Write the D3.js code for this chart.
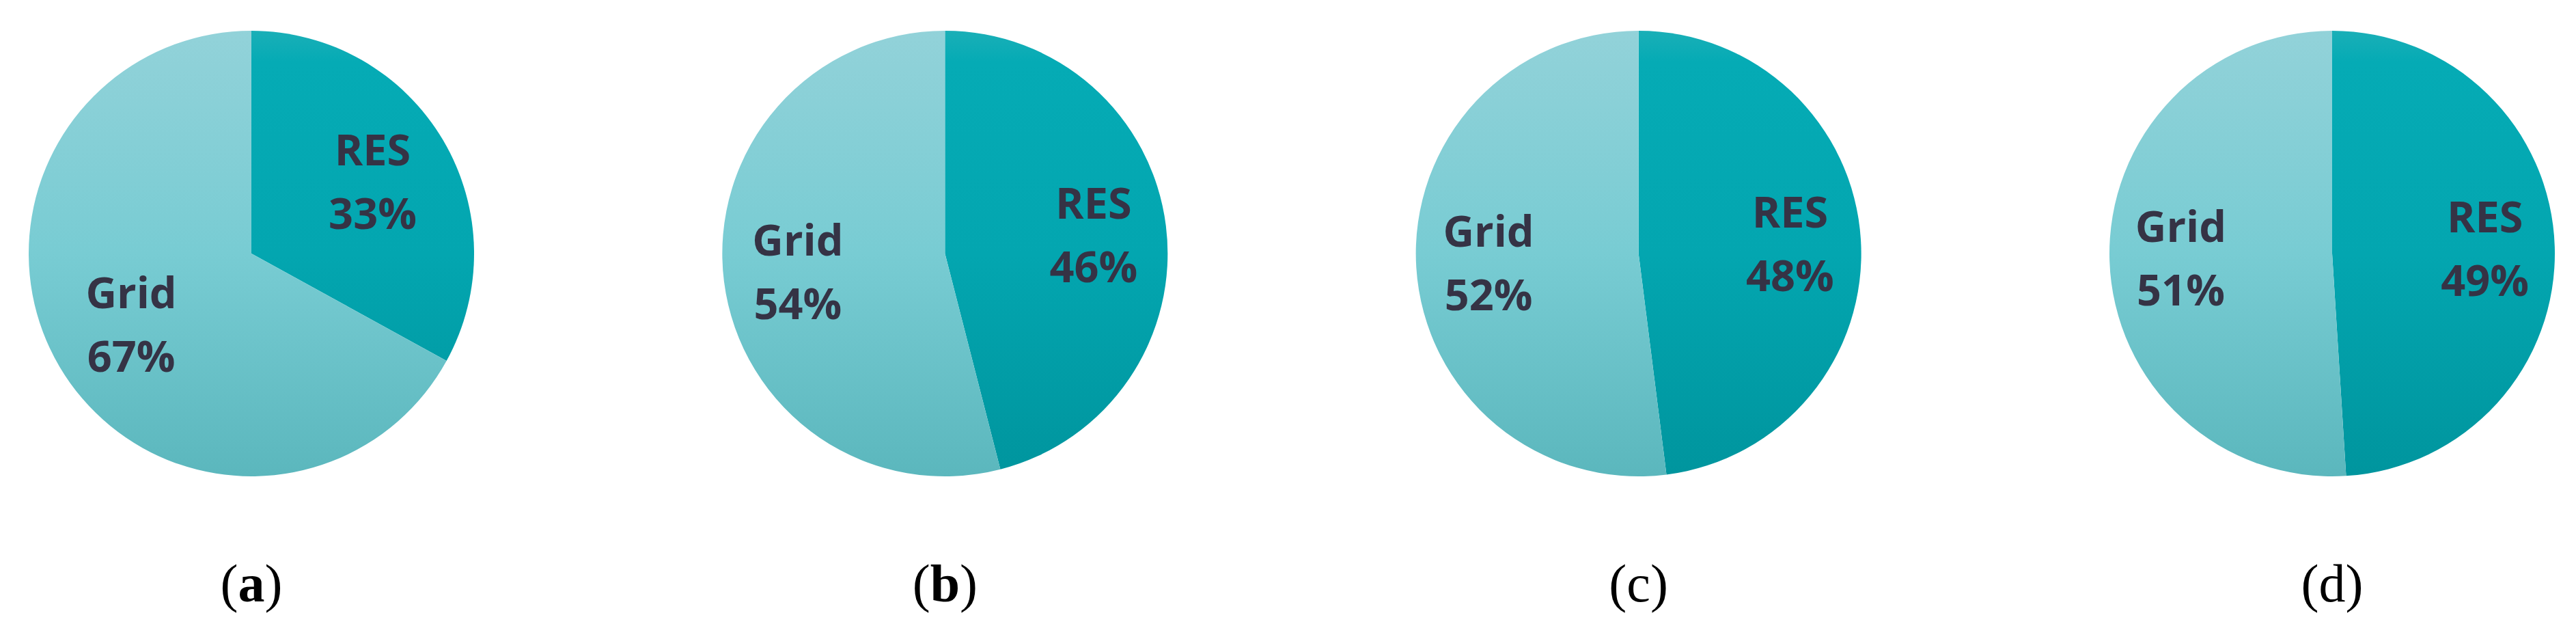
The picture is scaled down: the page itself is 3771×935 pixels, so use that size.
<!DOCTYPE html>
<html lang="en">
<head>
    <meta charset="UTF-8">
    <script src="https://d3js.org/d3.v7.min.js"></script>
</head>
<style>
    body{
        margin: 0;
        background: white;
    }
    .slice-label{
        font-family: 'Open Sans', 'Noto Sans', sans-serif;
        font-weight: 700;
        font-size: 63px;
        fill: #353345;
    }
    .panel-label{
        font-family: 'Liberation Serif', 'DejaVu Serif', serif;
        font-size: 78px;
        fill: #000;
    }
</style>
<body>
    <div class="chart"></div>
<script>
    const width = 3771,
        height = 935

    // one pie per panel
    const panels = ['a', 'b', 'c', 'd']
    const boldLetter = [true, true, false, false]
    const categories = ['RES', 'Grid']
    const resShare = [33, 46, 48, 49]
    const gridShare = [67, 54, 52, 51]

    const radius = 326,
        cy = 371,
        lineGap = 93,
        capHeight = 45,
        labelReach = 298

    const svg = d3.select('.chart')
        .append('svg')
        .attr('width', width)
        .attr('height', height)

    const defs = svg.append('defs')

    const gradients = {
        RES: [[0, '#1aafb7'], [0.07, '#05abb5'], [0.5, '#03a6b0'], [1, '#00959e']],
        Grid: [[0, '#92d2d9'], [0.5, '#78ccd3'], [1, '#5bb7bd']]
    }
    // gradient spans the whole pie (top to bottom), not each slice
    Object.keys(gradients).forEach(k => {
        const g = defs.append('linearGradient')
            .attr('id', 'grad-' + k)
            .attr('gradientUnits', 'userSpaceOnUse')
            .attr('x1', 0).attr('y1', -radius)
            .attr('x2', 0).attr('y2', radius)
        gradients[k].forEach(s => {
            g.append('stop').attr('offset', s[0]).attr('stop-color', s[1])
        })
    })

    const x = d3.scalePoint()
        .domain(panels)
        .range([368, 3414])

    const pie = d3.pie()
        .sort(null)
        .value(d => d.value)

    const arc = d3.arc()
        .innerRadius(0)
        .outerRadius(radius)

    panels.forEach((p, i) => {
        const data = [
            {name: categories[0], value: resShare[i]},
            {name: categories[1], value: gridShare[i]}
        ]
        const g = svg.append('g')
            .attr('transform', 'translate(' + x(p) + ',' + cy + ')')

        const arcs = pie(data)

        g.selectAll('.slice')
            .data(arcs)
            .enter().append('path')
            .attr('class', 'slice')
            .attr('d', arc)
            .attr('fill', d => 'url(#grad-' + d.data.name + ')')

        // labels: slide along the bisector until the outer corner hits labelReach
        arcs.forEach(a => {
            const mid = (a.startAngle + a.endAngle) / 2
            const ux = Math.sin(mid),
                uy = -Math.cos(mid)
            const t = g.append('text')
                .attr('class', 'slice-label')
                .attr('text-anchor', 'middle')
            const l1 = t.append('tspan').attr('x', 0).attr('y', -(lineGap + capHeight) / 2 + capHeight).text(a.data.name)
            const l2 = t.append('tspan').attr('x', 0).attr('y', (lineGap + capHeight) / 2).text(a.data.value + '%')
            const w = Math.max(l1.node().getComputedTextLength(), l2.node().getComputedTextLength())
            const hx = Math.sign(ux) * w / 2,
                hy = Math.sign(uy) * (lineGap + capHeight) / 2
            const q = ux * hx + uy * hy
            const d = -q + Math.sqrt(q * q - (hx * hx + hy * hy - labelReach * labelReach))
            t.attr('transform', 'translate(' + (d * ux) + ',' + (d * uy) + ')')
        })

        const cap = svg.append('text')
            .attr('class', 'panel-label')
            .attr('text-anchor', 'middle')
            .attr('x', x(p))
            .attr('y', 880)
        cap.append('tspan').text('(')
        cap.append('tspan').attr('font-weight', boldLetter[i] ? 700 : 400).text(p)
        cap.append('tspan').text(')')
    })
</script>
</body>
</html>
